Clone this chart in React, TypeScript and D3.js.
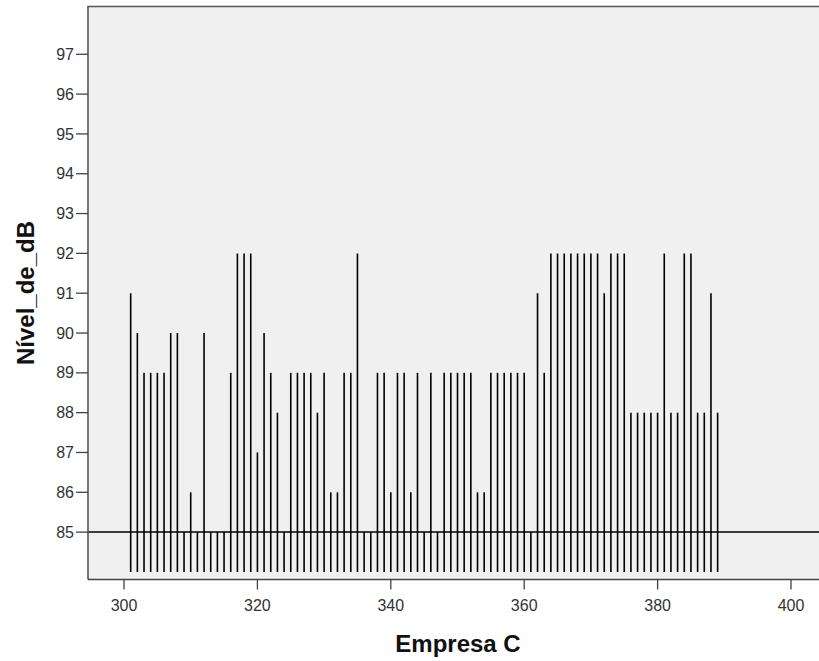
import React from "react";
import * as d3 from "d3";

// Company C noise readings: one reading per observation id
const obsStart = 301;
const levels: number[] = [
  91, 90, 89, 89, 89, 89, 90, 90, 85, 86, // 301-310
  85, 90, 85, 85, 85, 89, 92, 92, 92, 87, // 311-320
  90, 89, 88, 85, 89, 89, 89, 89, 88, 89, // 321-330
  86, 86, 89, 89, 92, 85, 85, 89, 89, 86, // 331-340
  89, 89, 86, 89, 85, 89, 85, 89, 89, 89, // 341-350
  89, 89, 86, 86, 89, 89, 89, 89, 89, 89, // 351-360
  85, 91, 89, 92, 92, 92, 92, 92, 92, 92, // 361-370
  92, 91, 92, 92, 92, 88, 88, 88, 88, 88, // 371-380
  92, 88, 88, 92, 92, 88, 88, 91, 88,     // 381-389
];
const observations = levels.map((v, i) => ({ id: obsStart + i, level: v }));

const xTicks = [300, 320, 340, 360, 380, 400];
const yTicks = [85, 86, 87, 88, 89, 90, 91, 92, 93, 94, 95, 96, 97];
const spikeBase = 84;
const referenceLevel = 85;

const xTitle = "Empresa C";
const yTitle = "Nível_de_dB";

const W = 819;
const H = 661;
const plot = { left: 88, right: 819, top: 6.5, bottom: 579.5 };

export default function App() {
  const x = d3.scaleLinear().domain([294.6, 404.2]).range([plot.left, plot.right]);
  const y = d3.scaleLinear().domain([83.81, 98.2]).range([plot.bottom, plot.top]);
  const font = "'Liberation Sans', Arial, sans-serif";

  return (
    <svg
      width={W}
      height={H}
      style={{ position: "absolute", left: 0, top: 0, background: "#fff" }}
    >
      <rect
        x={plot.left}
        y={plot.top}
        width={plot.right - plot.left}
        height={plot.bottom - plot.top}
        fill="#f0f0f0"
      />
      {observations.map((d) => (
        <line
          key={d.id}
          x1={x(d.id)}
          x2={x(d.id)}
          y1={y(spikeBase)}
          y2={y(d.level)}
          stroke="#000"
          strokeWidth={1.6}
        />
      ))}
      <line
        x1={plot.left}
        x2={plot.right}
        y1={y(referenceLevel)}
        y2={y(referenceLevel)}
        stroke="#000"
        strokeWidth={1.5}
      />
      {/* frame */}
      <path
        d={`M${plot.left},${plot.bottom}V${plot.top}H${plot.right}`}
        fill="none"
        stroke="#555"
        strokeWidth={1.6}
      />
      <line
        x1={plot.left}
        x2={plot.right}
        y1={plot.bottom}
        y2={plot.bottom}
        stroke="#444"
        strokeWidth={1.6}
      />
      {/* y axis */}
      {yTicks.map((t) => (
        <g key={t}>
          <line x1={76} x2={plot.left} y1={y(t)} y2={y(t)} stroke="#444" strokeWidth={1.3} />
          <text
            x={74}
            y={y(t)}
            dy="0.35em"
            textAnchor="end"
            fontFamily={font}
            fontSize={16}
            fill="#333"
          >
            {t}
          </text>
        </g>
      ))}
      {/* x axis */}
      {xTicks.map((t) => (
        <g key={t}>
          <line x1={x(t)} x2={x(t)} y1={plot.bottom} y2={plot.bottom + 10} stroke="#444" strokeWidth={1.3} />
          <text
            x={x(t)}
            y={611}
            textAnchor="middle"
            fontFamily={font}
            fontSize={16}
            fill="#333"
          >
            {t}
          </text>
        </g>
      ))}
      <text
        x={458}
        y={652}
        textAnchor="middle"
        fontFamily={font}
        fontWeight="bold"
        fontSize={24}
        fill="#111"
      >
        {xTitle}
      </text>
      <text
        transform={`translate(34,${(plot.top + plot.bottom) / 2}) rotate(-90)`}
        textAnchor="middle"
        fontFamily={font}
        fontWeight="bold"
        fontSize={24}
        fill="#111"
      >
        {yTitle}
      </text>
    </svg>
  );
}
